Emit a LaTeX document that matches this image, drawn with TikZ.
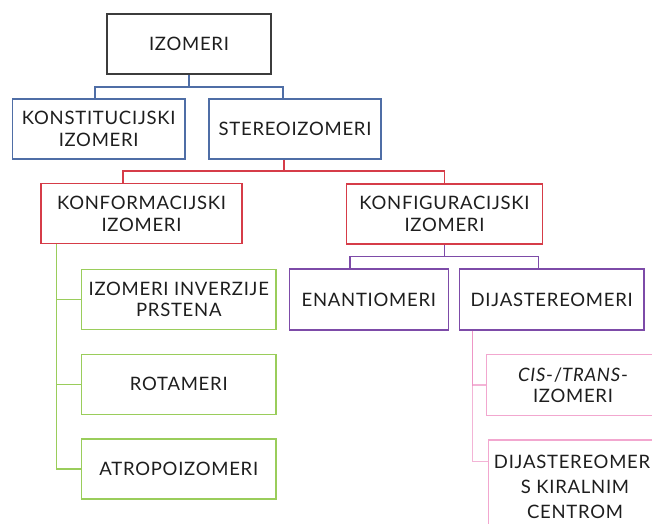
\documentclass[tikz,border=0pt]{standalone}
\usepackage{fontspec}
\setmainfont{Lato}[LetterSpace=4]
\usetikzlibrary{positioning}
\definecolor{txtcol}{RGB}{30,30,30}
\definecolor{topcol}{RGB}{60,60,60}
\definecolor{bluecol}{RGB}{79,110,166}
\definecolor{redcol}{RGB}{214,60,72}
\definecolor{purplecol}{RGB}{125,75,168}
\definecolor{greencol}{RGB}{154,205,91}
\definecolor{pinkcol}{RGB}{242,167,207}
\definecolor{pinkln}{RGB}{236,130,188}

\begin{document}
\begin{tikzpicture}[x=1pt, y=-1pt,
  every node/.style={font=\fontsize{18.5}{21.5}\selectfont, text=txtcol, align=center},
  box/.style={draw, fill=white, line width=1.4pt, inner sep=0pt, minimum height=60pt},
  topbox/.style={box, draw=topcol, line width=1.8pt},
  bluebox/.style={box, draw=bluecol},
  redbox/.style={box, draw=redcol},
  purplebox/.style={box, draw=purplecol},
  greenbox/.style={box, draw=greencol},
  pinkbox/.style={box, draw=pinkcol},
  link/.style={line width=1.4pt},
]
\clip (0,0) rectangle (652,523);
\fill[white] (0,0) rectangle (652,523);

% connectors first, boxes on top
\coordinate (bj) at (189,87);
\coordinate (rj) at (284,171);
\coordinate (pj) at (444.5,256.7);

% level 0 and 1
\node[topbox, minimum width=164pt] (izomeri) at (189,44) {IZOMERI};
\node[bluebox, minimum width=172.7pt] (konst) at (98.7,129) {KONSTITUCIJSKI\\IZOMERI};
\node[bluebox, minimum width=172pt] (stereo) at (295,129) {STEREOIZOMERI};

% level 2
\node[redbox, minimum width=201pt] (konform) at (141.5,213.7) {KONFORMACIJSKI\\IZOMERI};
\node[redbox, minimum width=195.6pt] (konfig) at (444.5,214) {KONFIGURACIJSKI\\IZOMERI};

% level 3
\node[purplebox, minimum width=159pt, minimum height=61pt] (enant) at (368.8,299.5) {ENANTIOMERI};
\node[purplebox, minimum width=184.7pt, minimum height=61pt] (dijast) at (551.7,299.5) {DIJASTEREOMERI};
\node[greenbox, minimum width=194.3pt] (inverz) at (178.8,299.3) {IZOMERI INVERZIJE\\PRSTENA};
\node[greenbox, minimum width=194.3pt] (rotam) at (178.8,384.2) {ROTAMERI};
\node[greenbox, minimum width=194.3pt] (atropo) at (178.8,469) {ATROPOIZOMERI};

% level 4
\node[pinkbox, minimum width=172.6pt, minimum height=61pt] (cistr) at (573,385) {\textit{CIS}-/\textit{TRANS}-\\IZOMERI};
\node[pinkbox, minimum width=172.6pt, minimum height=94pt,
  font=\fontsize{18.5}{25}\selectfont] (kiral) at (575,487) {DIJASTEREOMERI\\S KIRALNIM\\CENTROM};

% blue
\draw[link, bluecol] (izomeri.south) -- (bj);
\draw[link, bluecol] ([xshift=-3.7pt]konst.north) |- (bj) -| ([xshift=-12pt]stereo.north);
% red
\draw[link, redcol] ([xshift=-11pt]stereo.south) -- (rj);
\draw[link, redcol] ([xshift=-18.5pt]konform.north) |- (rj) -| (konfig.north);
% purple
\draw[link, purplecol] (konfig.south) -- (pj);
\draw[link, purplecol] ([xshift=-19pt]enant.north) |- (pj) -| ([xshift=-13.4pt]dijast.north);
% green
\draw[link, greencol] ([xshift=16.3pt]konform.south west) |- (inverz.west);
\draw[link, greencol] ([xshift=16.3pt]konform.south west) |- (rotam.west);
\draw[link, greencol] ([xshift=16.3pt]konform.south west) |- (atropo.west);
% pink
\draw[link, pinkln, opacity=0.6] ([xshift=14pt]dijast.south west) |- (cistr.west);
\draw[link, pinkln, opacity=0.6] ([xshift=14pt]dijast.south west) |- ([yshift=-22pt]kiral.north west);
\end{tikzpicture}
\end{document}
